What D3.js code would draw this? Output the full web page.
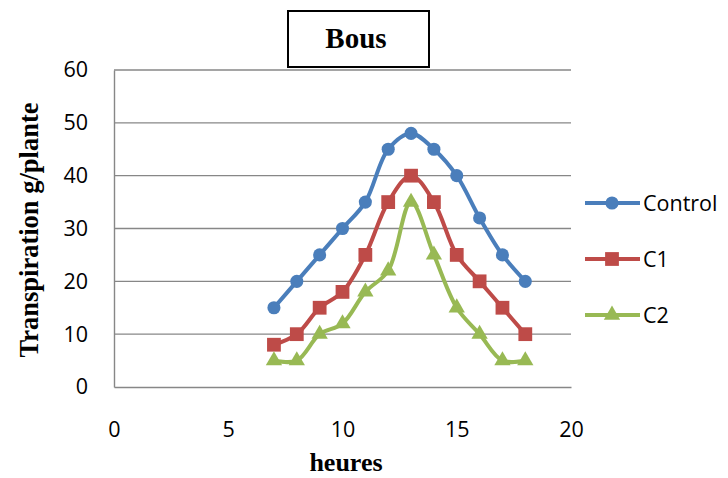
<!DOCTYPE html>
<html>
<head>
<meta charset="utf-8">
<script src="https://cdn.jsdelivr.net/npm/d3@7"></script>
<style>
  body { margin: 0; background: #fff; }
  svg { display: block; }
</style>
</head>
<body>
<svg id="chart" width="728" height="478"></svg>
<script>
// Hourly transpiration (g/plante) for the three treatments
const hours = [7, 8, 9, 10, 11, 12, 13, 14, 15, 16, 17, 18];
const control = [15, 20, 25, 30, 35, 45, 48, 45, 40, 32, 25, 20];
const c1 = [8, 10, 15, 18, 25, 35, 40, 35, 25, 20, 15, 10];
const c2 = [5, 5, 10, 12, 18, 22, 35, 25, 15, 10, 5, 5];
const seriesNames = ["Control", "C1", "C2"];
const xTicks = [0, 5, 10, 15, 20];
const yTicks = [0, 10, 20, 30, 40, 50, 60];

const svg = d3.select("#chart");
const plot = { left: 114, right: 571, top: 70, bottom: 387 };

const x = d3.scaleLinear().domain([0, 20]).range([plot.left, plot.right]);
const y = d3.scaleLinear().domain([0, 60]).range([plot.bottom, plot.top]);

const tickFont = "'Open Sans', 'Liberation Sans', sans-serif";
const serif = "'Liberation Serif', 'Times New Roman', serif";
const gridColor = "#878787";
const tickSize = 21.5;

// horizontal gridlines
svg.append("g")
  .selectAll("line")
  .data(yTicks.filter(d => d > 0))
  .join("line")
  .attr("x1", plot.left).attr("x2", plot.right)
  .attr("y1", d => y(d)).attr("y2", d => y(d))
  .attr("stroke", gridColor).attr("stroke-width", 1.4);

// y axis
const yAxis = svg.append("g")
  .attr("transform", `translate(${plot.left},0)`)
  .call(d3.axisLeft(y).tickValues(yTicks).tickSize(0).tickPadding(26));
yAxis.select(".domain").attr("stroke", gridColor).attr("stroke-width", 1.4);
yAxis.selectAll("text")
  .attr("font-family", tickFont).attr("font-size", tickSize).attr("fill", "#000");

// x axis
const xAxis = svg.append("g")
  .attr("transform", `translate(0,${plot.bottom})`)
  .call(d3.axisBottom(x).tickValues(xTicks).tickSize(0));
xAxis.select(".domain").attr("stroke", gridColor).attr("stroke-width", 1.4);
xAxis.selectAll("text")
  .attr("y", 42).attr("dy", "0.36em")
  .attr("font-family", tickFont).attr("font-size", tickSize).attr("fill", "#000");

// axis titles
svg.append("text")
  .attr("x", 346).attr("y", 471)
  .attr("text-anchor", "middle")
  .attr("font-family", serif)
  .attr("font-weight", "bold").attr("font-size", 26)
  .text("heures");

svg.append("text")
  .attr("transform", "translate(38,230) rotate(-90)")
  .attr("text-anchor", "middle")
  .attr("font-family", serif)
  .attr("font-weight", "bold").attr("font-size", 26.5)
  .text("Transpiration g/plante");

// title box
svg.append("rect")
  .attr("x", 288).attr("y", 11).attr("width", 141).attr("height", 56)
  .attr("fill", "#fff").attr("stroke", "#000").attr("stroke-width", 2);
svg.append("text")
  .attr("x", 356).attr("y", 48)
  .attr("text-anchor", "middle")
  .attr("font-family", serif)
  .attr("font-weight", "bold").attr("font-size", 29)
  .text("Bous");

const series = [
  { name: seriesNames[0], values: control, color: "#4a7ebb", symbol: d3.symbolCircle, size: 135 },
  { name: seriesNames[1], values: c1, color: "#be4b48", symbol: d3.symbolSquare, size: 190 },
  { name: seriesNames[2], values: c2, color: "#98b954", symbol: d3.symbolTriangle, size: 115 }
];

const line = d3.line()
  .x(d => x(d[0])).y(d => y(d[1]))
  .curve(d3.curveCatmullRom.alpha(0.5));

series.forEach(s => {
  const pts = hours.map((h, i) => [h, s.values[i]]);
  svg.append("path")
    .datum(pts)
    .attr("d", line)
    .attr("fill", "none")
    .attr("stroke", s.color).attr("stroke-width", 4)
    .attr("stroke-linejoin", "round");
  svg.append("g")
    .selectAll("path")
    .data(pts)
    .join("path")
    .attr("transform", d => `translate(${x(d[0])},${y(d[1])})`)
    .attr("d", d3.symbol().type(s.symbol).size(s.size))
    .attr("fill", s.color);
});

// legend
const legendY = [203, 259, 315];
series.forEach((s, i) => {
  const g = svg.append("g").attr("transform", `translate(0,${legendY[i]})`);
  g.append("line")
    .attr("x1", 585).attr("x2", 640).attr("y1", 0).attr("y2", 0)
    .attr("stroke", s.color).attr("stroke-width", 4);
  g.append("path")
    .attr("transform", "translate(612,0)")
    .attr("d", d3.symbol().type(s.symbol).size(s.size))
    .attr("fill", s.color);
  g.append("text")
    .attr("x", 643).attr("y", 0).attr("dy", "0.36em")
    .attr("font-family", tickFont).attr("font-size", tickSize)
    .text(s.name);
});
</script>
</body>
</html>
